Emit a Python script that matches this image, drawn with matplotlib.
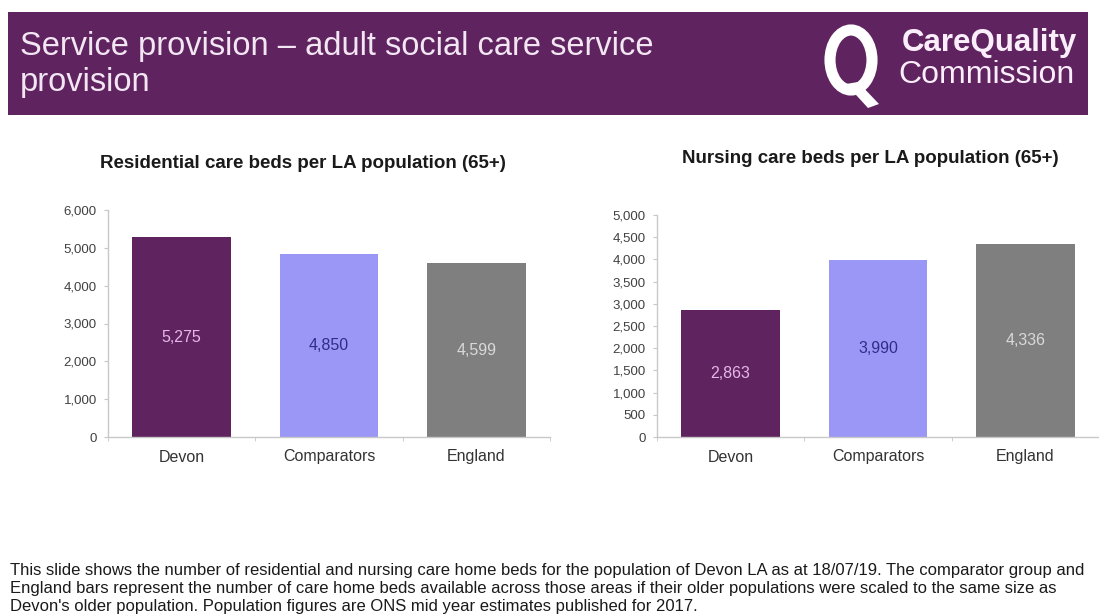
import matplotlib.pyplot as plt
from matplotlib.patches import Rectangle, Ellipse, Polygon
from matplotlib.ticker import FuncFormatter, MultipleLocator

plt.rcParams["font.family"] = ["Liberation Sans", "DejaVu Sans"]

categories = ["Devon", "Comparators", "England"]
residential_beds = [5275, 4850, 4599]
nursing_beds = [2863, 3990, 4336]

bar_colors = ["#5f2360", "#9b97f7", "#7f7f7f"]
label_colors = ["#e6b8e6", "#2e2e86", "#d9d9d9"]
purple = "#5f2360"

W, H = 1099, 616


def px_rect(left, top, right, bottom):
    return [left / W, 1 - bottom / H, (right - left) / W, (bottom - top) / H]


def bar_panel(ax, values, ymax, step):
    bars = ax.bar(range(len(categories)), values, width=0.67, color=bar_colors, zorder=2)
    for bar, val, col in zip(bars, values, label_colors):
        ax.text(bar.get_x() + bar.get_width() / 2, val / 2, f"{val:,}",
                ha="center", va="center", fontsize=11.5, color=col)
    ax.set_xlim(-0.5, len(categories) - 0.5)
    ax.set_ylim(0, ymax)
    ax.yaxis.set_major_locator(MultipleLocator(step))
    ax.yaxis.set_major_formatter(FuncFormatter(lambda v, _: f"{int(v):,}"))
    ax.set_xticks(range(len(categories)))
    ax.set_xticklabels(categories, fontsize=11.5, color="#333333")
    ax.set_xticks([-0.5, 0.5, 1.5, 2.5], minor=True)
    ax.tick_params(axis="x", which="major", length=0, pad=9)
    ax.tick_params(axis="x", which="minor", length=3, color="#c8c8c8")
    ax.tick_params(axis="y", length=3, color="#c8c8c8", labelsize=9.5,
                   labelcolor="#404040", pad=5)
    for side in ("top", "right"):
        ax.spines[side].set_visible(False)
    for side in ("left", "bottom"):
        ax.spines[side].set_color("#c8c8c8")
        ax.spines[side].set_linewidth(1.0)


fig = plt.figure(figsize=(W / 100, H / 100), dpi=100)
fig.patch.set_facecolor("white")

# header banner
fig.patches.append(Rectangle((8 / W, 1 - 115 / H), 1080 / W, 103 / H,
                             transform=fig.transFigure, facecolor=purple,
                             edgecolor="none"))
fig.text(20 / W, 1 - 47 / H, "Service provision \u2013 adult social care service",
         fontsize=23.5, color="#f3e6f3", va="center")
fig.text(20 / W, 1 - 82 / H, "provision", fontsize=23.5, color="#f3e6f3", va="center")

# logo: ring with a tail, then the wordmark
fig.patches.append(Ellipse((851 / W, 1 - 60 / H), 42 / W, 60 / H,
                           transform=fig.transFigure, facecolor="none",
                           edgecolor="white", linewidth=8))
fig.patches.append(Polygon([(846 / W, 1 - 84 / H), (858 / W, 1 - 82 / H),
                            (879 / W, 1 - 104 / H), (868 / W, 1 - 108 / H)],
                           closed=True, transform=fig.transFigure,
                           facecolor="white", edgecolor="none"))
fig.text(1077 / W, 1 - 43 / H, "CareQuality", fontsize=22.5, fontweight="bold",
         color="#fbeefb", ha="right", va="center")
fig.text(1075 / W, 1 - 75 / H, "Commission", fontsize=23, color="#fbeefb",
         ha="right", va="center")

ax1 = fig.add_axes(px_rect(108, 210, 550, 437))
bar_panel(ax1, residential_beds, 6000, 1000)
fig.text(303 / W, 1 - 163 / H, "Residential care beds per LA population (65+)",
         fontsize=13.5, fontweight="bold", color="#1a1a1a", ha="center", va="center")

ax2 = fig.add_axes(px_rect(657, 215, 1099, 437))
bar_panel(ax2, nursing_beds, 5000, 500)
fig.text(870 / W, 1 - 158 / H, "Nursing care beds per LA population (65+)",
         fontsize=13.5, fontweight="bold", color="#1a1a1a", ha="center", va="center")

footer = [
    "This slide shows the number of residential and nursing care home beds for the population of Devon LA as at 18/07/19. The comparator group and",
    "England bars represent the number of care home beds available across those areas if their older populations were scaled to the same size as",
    "Devon's older population. Population figures are ONS mid year estimates published for 2017.",
]
for i, line in enumerate(footer):
    fig.text(10 / W, 1 - (570 + 18 * i) / H, line, fontsize=12,
             color="#1a1a1a", va="center")

fig.savefig("out.png", dpi=100)
